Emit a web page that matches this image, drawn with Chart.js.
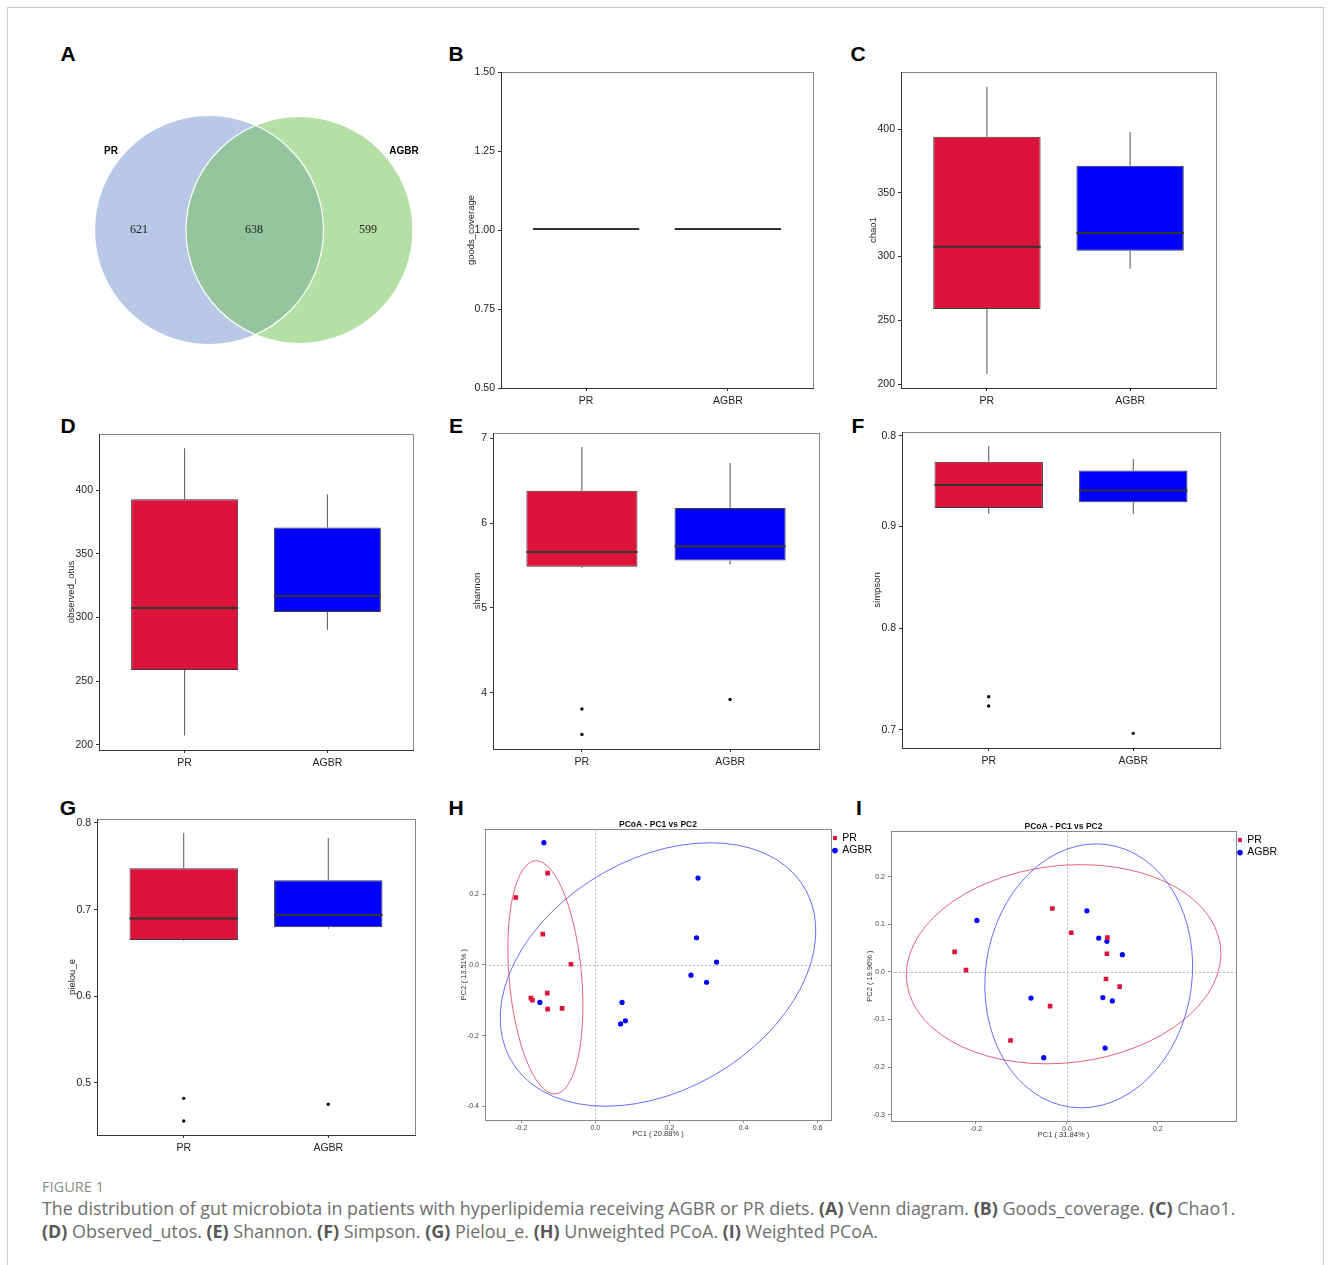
<!DOCTYPE html>
<html>
<head>
<meta charset="utf-8">
<title>Figure 1</title>
<script src="https://cdn.jsdelivr.net/npm/chart.js@4.4.1/dist/chart.umd.min.js"></script>
<style>
  body { margin: 0; background: #fff; }
  #page { position: relative; width: 1331px; height: 1265px; overflow: hidden; background: #fff; }
  #frame { position: absolute; left: 7px; top: 7px; width: 1315px; height: 1300px; border: 1px solid #c9c9c9; }
  canvas { position: absolute; }
  .tag { position: absolute; font: bold 21px 'Liberation Sans', Arial, sans-serif; line-height: 22px; transform: translate(-50%, -50%); color: #000; }
  #figlabel { position: absolute; left: 42px; top: 1177px; font: 14.6px/18px 'Open Sans', sans-serif; color: #8c8c8c; }
  #caption { position: absolute; left: 42px; top: 1197px; font: 17.9px/23px 'Open Sans', sans-serif; color: #6e6e6e; white-space: nowrap; }
  #caption b { color: #585858; font-weight: 700; }
</style>
</head>
<body>
<div id="page">
  <div id="frame"></div>

  <div class="tag" style="left:68px;top:54px">A</div>
  <div class="tag" style="left:456px;top:54px">B</div>
  <div class="tag" style="left:858px;top:54px">C</div>
  <div class="tag" style="left:68px;top:426px">D</div>
  <div class="tag" style="left:456px;top:426px">E</div>
  <div class="tag" style="left:858px;top:426px">F</div>
  <div class="tag" style="left:68px;top:808px">G</div>
  <div class="tag" style="left:456px;top:808px">H</div>
  <div class="tag" style="left:859px;top:808px">I</div>

  <canvas id="venn" width="420" height="260" style="left:44px;top:100px"></canvas>
  <canvas id="goods" width="382" height="356" style="left:441px;top:62px"></canvas>
  <canvas id="chao" width="385" height="356" style="left:841px;top:62px"></canvas>
  <canvas id="otus" width="384" height="356" style="left:39px;top:424px"></canvas>
  <canvas id="shannon" width="396" height="356" style="left:433px;top:423px"></canvas>
  <canvas id="simpson" width="388" height="356" style="left:842px;top:422px"></canvas>
  <canvas id="pielou" width="388" height="356" style="left:37px;top:809px"></canvas>
  <canvas id="pcoaH" width="435" height="327" style="left:447px;top:815px"></canvas>
  <canvas id="pcoaI" width="434" height="326" style="left:853px;top:817px"></canvas>

  <div id="figlabel">FIGURE 1</div>
  <div id="caption">The distribution of gut microbiota in patients with hyperlipidemia receiving AGBR or PR diets. <b>(A)</b> Venn diagram. <b>(B)</b> Goods_coverage. <b>(C)</b> Chao1.<br><b>(D)</b> Observed_utos. <b>(E)</b> Shannon. <b>(F)</b> Simpson. <b>(G)</b> Pielou_e. <b>(H)</b> Unweighted PCoA. <b>(I)</b> Weighted PCoA.</div>
</div>

<script>
// groups
const groups = ['PR', 'AGBR']
const groupColors = ['#dc143c', '#0000ff']

// venn: PR only, shared, AGBR only
const vennSets = ['PR', 'AGBR']
const vennCounts = [621, 638, 599]

// box summaries: [lower whisker, Q1, median, Q3, upper whisker]
const goodsPR = [1, 1, 1, 1, 1]
const goodsAGBR = [1, 1, 1, 1, 1]
const chaoPR = [207.8, 258.8, 306.9, 394.0, 433.2]
const chaoAGBR = [290.4, 304.6, 317.6, 371.2, 397.6]
const otusPR = [207.2, 258.7, 306.7, 392.9, 433.0]
const otusAGBR = [290.1, 304.4, 316.2, 370.8, 396.9]
const shannonPR = [5.47, 5.487, 5.649, 6.383, 6.899]
const shannonAGBR = [5.512, 5.559, 5.716, 6.179, 6.71]
const simpsonPR = [0.9125, 0.9181, 0.9397, 0.9636, 0.979]
const simpsonAGBR = [0.9122, 0.9236, 0.9344, 0.955, 0.9663]
const pielouPR = [0.664, 0.6651, 0.6885, 0.7477, 0.7885]
const pielouAGBR = [0.678, 0.6797, 0.6927, 0.7339, 0.7827]

// outliers
const shannonOutPR = [3.808, 3.508]
const shannonOutAGBR = [3.92]
const simpsonOutPR = [0.7324, 0.7233]
const simpsonOutAGBR = [0.6964]
const pielouOutPR = [0.4823, 0.4561]
const pielouOutAGBR = [0.4754]

// y ticks
const goodsTicks = [0.5, 0.75, 1, 1.25, 1.5]
const goodsTickLabels = ['0.50', '0.75', '1.00', '1.25', '1.50']
const countTicks = [200, 250, 300, 350, 400]
const countTickLabels = ['200', '250', '300', '350', '400']
const shannonTicks = [4, 5, 6, 7]
const shannonTickLabels = ['4', '5', '6', '7']
const simpsonTicks = [0.7, 0.8, 0.9, 0.989]
const simpsonTickLabels = ['0.7', '0.8', '0.9', '0.8']
const pielouTicks = [0.5, 0.6, 0.7, 0.8]
const pielouTickLabels = ['0.5', '0.6', '0.7', '0.8']

// unweighted PCoA (H)
const hPRx = [-0.129, -0.215, -0.142, -0.066, -0.130, -0.174, -0.170, -0.129, -0.090]
const hPRy = [0.260, 0.191, 0.087, 0.002, -0.080, -0.094, -0.100, -0.125, -0.123]
const hAGBRx = [-0.139, 0.277, 0.273, 0.327, 0.258, 0.300, -0.150, 0.072, 0.081, 0.068]
const hAGBRy = [0.346, 0.246, 0.077, 0.008, -0.029, -0.049, -0.106, -0.106, -0.158, -0.167]
// ellipses: [centre x, centre y, top vertex dx, top vertex dy, horizontal half chord]
const hEllPR = [-0.135, -0.035, -0.0248, 0.330, 0.0982]
const hEllAGBR = [0.169, -0.027, 0.141, 0.373, 0.402]
const hXTicks = [-0.2, 0, 0.2, 0.4, 0.6]
const hYTicks = [-0.4, -0.2, 0, 0.2]

// weighted PCoA (I)
const iPRx = [-0.032, 0.0095, 0.089, 0.088, -0.247, -0.222, 0.086, 0.116, -0.037, -0.124]
const iPRy = [0.133, 0.082, 0.072, 0.038, 0.042, 0.0035, -0.015, -0.031, -0.072, -0.144]
const iAGBRx = [-0.198, 0.044, 0.070, 0.088, 0.122, -0.079, 0.079, 0.100, 0.084, -0.051]
const iAGBRy = [0.108, 0.128, 0.071, 0.064, 0.036, -0.055, -0.054, -0.061, -0.160, -0.180]
const iEllPR = [-0.0073, 0.016, 0.0374, 0.209, 0.344]
const iEllAGBR = [0.048, -0.0084, 0.0165, 0.277, 0.228]
const iXTicks = [-0.2, 0, 0.2]
const iYTicks = [-0.3, -0.2, -0.1, 0, 0.1, 0.2]

Chart.defaults.font.family = "'Liberation Sans', Arial, sans-serif"
Chart.defaults.animation = false

// gray frame round the plotting area, axes drawn over it
const panelBorder = {
    id: 'panelBorder',
    defaults: { color: '#888' },
    beforeDraw(chart, args, opts) {
        const { ctx, chartArea: a } = chart
        ctx.save()
        ctx.strokeStyle = opts.color
        ctx.lineWidth = 1
        ctx.strokeRect(Math.round(a.left) + 0.5, Math.round(a.top) + 0.5, Math.round(a.width), Math.round(a.height))
        ctx.restore()
    }
}

const zeroLines = {
    id: 'zeroLines',
    beforeDatasetsDraw(chart) {
        const { ctx, chartArea: a, scales: { x, y } } = chart
        const px = Math.round(x.getPixelForValue(0)) + 0.5
        const py = Math.round(y.getPixelForValue(0)) + 0.5
        ctx.save()
        ctx.strokeStyle = '#a8a8a8'
        ctx.lineWidth = 0.8
        ctx.setLineDash([2, 2])
        ctx.beginPath()
        ctx.moveTo(px, a.top); ctx.lineTo(px, a.bottom)
        ctx.moveTo(a.left, py); ctx.lineTo(a.right, py)
        ctx.stroke()
        ctx.restore()
    }
}

// ellipse from centre, top vertex and the conjugate horizontal half chord
const ellipses = {
    id: 'ellipses',
    beforeDatasetsDraw(chart, args, opts) {
        const { ctx, chartArea: a, scales: { x, y } } = chart
        ctx.save()
        ctx.beginPath()
        ctx.rect(a.left, a.top, a.width, a.height)
        ctx.clip()
        opts.items.forEach(e => {
            const [cx, cy, dx, dy, h] = e.values
            const px = x.getPixelForValue(cx), py = y.getPixelForValue(cy)
            const ux = x.getPixelForValue(cx + dx) - px
            const uy = y.getPixelForValue(cy + dy) - py
            const vx = x.getPixelForValue(cx + h) - px
            ctx.save()
            ctx.transform(ux, uy, vx, 0, px, py)
            ctx.beginPath()
            ctx.arc(0, 0, 1, 0, Math.PI * 2)
            ctx.restore()
            ctx.strokeStyle = e.color
            ctx.lineWidth = 1
            ctx.stroke()
        })
        ctx.restore()
    }
}

// ---------- A: venn ----------
const vennCenterX = [-0.45, 0.455]
const vennRadius = [1.145, 1.135]
const vennColors = ['#b7c9e6', '#b5e0a5']
const vennShared = '#95c59d'
const vennCountX = [-1.15, 0, 1.14]
const vennNameX = [-1.43, 1.5]
const vennNameY = 0.79

const unitPx = chart => chart.scales.x.getPixelForValue(1) - chart.scales.x.getPixelForValue(0)

const vennOverlap = {
    id: 'vennOverlap',
    afterDatasetsDraw(chart) {
        const { ctx, scales: { x, y } } = chart
        const u = unitPx(chart)
        const a = chart.getDatasetMeta(0).data[0]
        const b = chart.getDatasetMeta(1).data[0]
        const ra = u * vennRadius[0], rb = u * vennRadius[1]
        ctx.save()
        ctx.beginPath()
        ctx.arc(a.x, a.y, ra, 0, Math.PI * 2)
        ctx.clip()
        ctx.beginPath()
        ctx.arc(b.x, b.y, rb, 0, Math.PI * 2)
        ctx.fillStyle = vennShared
        ctx.fill()
        ctx.restore()

        ctx.save()
        ctx.strokeStyle = '#fff'
        ctx.lineWidth = 1.2
        ;[[a, ra], [b, rb]].forEach(([p, r]) => {
            ctx.beginPath()
            ctx.arc(p.x, p.y, r, 0, Math.PI * 2)
            ctx.stroke()
        })

        ctx.fillStyle = '#222'
        ctx.textAlign = 'center'
        ctx.textBaseline = 'middle'
        ctx.font = "12px 'Liberation Serif', serif"
        vennCounts.forEach((c, i) => ctx.fillText(String(c), x.getPixelForValue(vennCountX[i]), y.getPixelForValue(0)))
        ctx.fillStyle = '#000'
        ctx.font = "bold 10px 'Liberation Sans', Arial, sans-serif"
        vennSets.forEach((s, i) => ctx.fillText(s, x.getPixelForValue(vennNameX[i]), y.getPixelForValue(vennNameY)))
        ctx.restore()
    }
}

new Chart(document.getElementById('venn'), {
    type: 'scatter',
    data: {
        datasets: vennSets.map((s, i) => ({
            label: s,
            data: [{ x: vennCenterX[i], y: 0 }],
            backgroundColor: vennColors[i],
            borderWidth: 0,
            pointStyle: 'circle',
            pointRadius: ctx => unitPx(ctx.chart) * vennRadius[i],
            order: -i,
            clip: false
        }))
    },
    options: {
        responsive: false,
        events: [],
        layout: { padding: 0 },
        plugins: { legend: { display: false }, tooltip: { enabled: false } },
        scales: {
            x: { type: 'linear', min: -2.1, max: 2.1, display: false },
            y: { type: 'linear', min: -1.3, max: 1.3, display: false }
        }
    },
    plugins: [vennOverlap]
})

// ---------- box panels ----------
const darkGrid = { display: true, drawOnChartArea: false, drawTicks: true, tickLength: 3, tickColor: '#333', tickWidth: 1 }
const darkBorder = { display: true, color: '#333', width: 1 }

function boxSets(stats, outliers) {
    const at = f => stats.map((s, i) => ({ x: i + 1, y: f(s) }))
    const common = { grouped: false, inflateAmount: 0, barPercentage: 0.75, categoryPercentage: 1 }
    const pts = []
    outliers.forEach((list, i) => list.forEach(v => pts.push({ x: i + 1, y: v })))
    return [
        { ...common, data: at(s => [s[0], s[1]]), backgroundColor: '#555', barThickness: 1, order: 3 },
        { ...common, data: at(s => [s[3], s[4]]), backgroundColor: '#555', barThickness: 1, order: 3 },
        { ...common, data: at(s => [s[1], s[3]]), backgroundColor: groupColors, borderColor: '#3c3c3c', borderWidth: 1, borderSkipped: false, order: 2 },
        { ...common, data: at(s => [s[2], s[2]]), backgroundColor: '#333', minBarLength: 2, order: 1 },
        { type: 'scatter', data: pts, backgroundColor: '#000', borderWidth: 0, pointRadius: 1.7, order: 0 }
    ]
}

function boxChart(id, yTitle, stats, outliers, yMin, yMax, yTicks, yLabels, titlePad) {
    new Chart(document.getElementById(id), {
        type: 'bar',
        data: { datasets: boxSets(stats, outliers) },
        options: {
            responsive: false,
            events: [],
            layout: { padding: { top: 10, right: 10, left: 0, bottom: 0 } },
            plugins: { legend: { display: false }, tooltip: { enabled: false } },
            scales: {
                x: {
                    type: 'linear', min: 0.4, max: 2.6, offset: false,
                    afterBuildTicks: s => { s.ticks = groups.map((g, i) => ({ value: i + 1 })) },
                    ticks: { callback: v => groups[v - 1], font: { size: 10.5 }, color: '#222', padding: 4, maxRotation: 0, autoSkip: false },
                    grid: { ...darkGrid, offset: false },
                    border: darkBorder,
                    afterFit: s => { s.height = 30 }
                },
                y: {
                    type: 'linear', min: yMin, max: yMax, beginAtZero: false,
                    afterBuildTicks: s => { s.ticks = yTicks.map(v => ({ value: v })) },
                    ticks: { callback: (v, i) => yLabels[i], font: { size: 10.5 }, color: '#222', padding: 3, autoSkip: false },
                    grid: darkGrid,
                    border: darkBorder,
                    title: { display: true, text: yTitle, font: { size: 9.5 }, color: '#222', padding: { top: titlePad, bottom: 0 } },
                    afterFit: s => { s.width = 60 }
                }
            }
        },
        plugins: [panelBorder]
    })
}

boxChart('goods', 'goods_coverage', [goodsPR, goodsAGBR], [[], []], 0.5, 1.5, goodsTicks, goodsTickLabels, 24.3)
boxChart('chao', 'chao1', [chaoPR, chaoAGBR], [[], []], 196.9, 444.7, countTicks, countTickLabels, 26.3)
boxChart('otus', 'observed_otus', [otusPR, otusAGBR], [[], []], 195.8, 444.3, countTicks, countTickLabels, 27)
boxChart('shannon', 'shannon', [shannonPR, shannonAGBR], [shannonOutPR, shannonOutAGBR], 3.336, 7.064, shannonTicks, shannonTickLabels, 38.7)
boxChart('simpson', 'simpson', [simpsonPR, simpsonAGBR], [simpsonOutPR, simpsonOutAGBR], 0.682, 0.9928, simpsonTicks, simpsonTickLabels, 29.3)
boxChart('pielou', 'pielou_e', [pielouPR, pielouAGBR], [pielouOutPR, pielouOutAGBR], 0.44, 0.8046, pielouTicks, pielouTickLabels, 29.7)

// ---------- PCoA panels ----------
const grayGrid = { display: true, drawOnChartArea: false, drawTicks: true, tickLength: 3, tickColor: '#888', tickWidth: 1 }
const grayBorder = { display: true, color: '#888', width: 1 }
const zip = (xs, ys) => xs.map((v, i) => ({ x: v, y: ys[i] }))

function pcoaChart(id, prPts, agPts, ells, xMin, xMax, yMin, yMax, xTicks, yTicks, xTitle, yTitle) {
    new Chart(document.getElementById(id), {
        type: 'scatter',
        data: {
            datasets: [
                { label: groups[0], data: prPts, pointStyle: 'rect', pointRadius: 3.3, backgroundColor: groupColors[0], borderColor: groupColors[0], borderWidth: 0 },
                { label: groups[1], data: agPts, pointStyle: 'circle', pointRadius: 2.6, backgroundColor: groupColors[1], borderColor: groupColors[1], borderWidth: 0 }
            ]
        },
        options: {
            responsive: false,
            events: [],
            layout: { padding: 0 },
            plugins: {
                tooltip: { enabled: false },
                title: { display: true, text: 'PCoA - PC1 vs PC2', fullSize: false, font: { size: 8.5, weight: 'bold' }, color: '#111', padding: { top: 4.1, bottom: 0 } },
                legend: {
                    position: 'right', align: 'start',
                    title: { display: true, text: ' ', font: { size: 1 }, padding: { top: 14.6, bottom: 0 } },
                    labels: { usePointStyle: true, boxWidth: 4, boxHeight: 4, padding: 2, font: { size: 10.5 }, color: '#000' }
                },
                ellipses: { items: ells },
                panelBorder: { color: '#888' }
            },
            scales: {
                x: {
                    type: 'linear', min: xMin, max: xMax,
                    afterBuildTicks: s => { s.ticks = xTicks.map(v => ({ value: v })) },
                    ticks: { callback: v => v.toFixed(1), font: { size: 7 }, color: '#444', padding: 1, maxRotation: 0, autoSkip: false },
                    grid: grayGrid,
                    border: grayBorder,
                    title: { display: true, text: xTitle, font: { size: 7.5 }, color: '#333', padding: { top: 0, bottom: 3.2 } },
                    afterFit: s => { s.height = 22 }
                },
                y: {
                    type: 'linear', min: yMin, max: yMax,
                    afterBuildTicks: s => { s.ticks = yTicks.map(v => ({ value: v })) },
                    ticks: { callback: v => v.toFixed(1), font: { size: 7 }, color: '#444', padding: 3, autoSkip: false },
                    grid: grayGrid,
                    border: grayBorder,
                    title: { display: true, text: yTitle, font: { size: 7.5 }, color: '#333', padding: { top: 12.5, bottom: 0 } },
                    afterFit: s => { s.width = 38 }
                }
            }
        },
        plugins: [panelBorder, zeroLines, ellipses]
    })
}

pcoaChart('pcoaH', zip(hPRx, hPRy), zip(hAGBRx, hAGBRy),
    [{ values: hEllPR, color: 'rgba(225,60,90,0.8)' }, { values: hEllAGBR, color: 'rgba(70,70,255,0.8)' }],
    -0.298, 0.636, -0.439, 0.384, hXTicks, hYTicks, 'PC1 ( 20.88% )', 'PC2 ( 13.51% )')

pcoaChart('pcoaI', zip(iPRx, iPRy), zip(iAGBRx, iAGBRy),
    [{ values: iEllPR, color: 'rgba(225,60,90,0.8)' }, { values: iEllAGBR, color: 'rgba(70,70,255,0.8)' }],
    -0.387, 0.372, -0.313, 0.295, iXTicks, iYTicks, 'PC1 ( 31.84% )', 'PC2 ( 19.96% )')
</script>
</body>
</html>
